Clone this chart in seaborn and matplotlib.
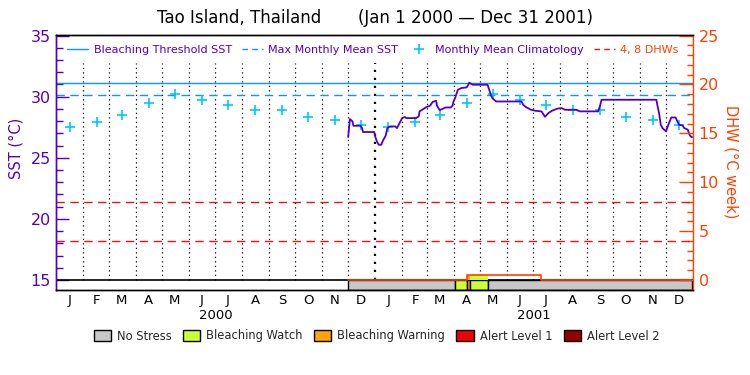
import pandas as pd
import matplotlib
matplotlib.use('Agg')
import matplotlib.pyplot as plt
import matplotlib.transforms as mtransforms
from matplotlib.lines import Line2D
from matplotlib.patches import Patch
from matplotlib.ticker import MultipleLocator
import seaborn as sns

# SST (°C) - resimden okunan yaklaşık değerler
sst_dates = ['2000-12-01', '2000-12-03', '2000-12-06', '2000-12-07', '2000-12-15', '2000-12-17',
             '2000-12-18', '2000-12-31', '2001-01-01', '2001-01-03', '2001-01-05', '2001-01-08',
             '2001-01-10', '2001-01-13', '2001-01-15', '2001-01-18', '2001-01-24', '2001-01-26',
             '2001-01-28', '2001-01-30', '2001-02-01', '2001-02-04', '2001-02-06', '2001-02-17',
             '2001-02-20', '2001-02-21', '2001-02-24', '2001-02-27', '2001-03-01', '2001-03-05',
             '2001-03-08', '2001-03-12', '2001-03-13', '2001-03-16', '2001-03-19', '2001-03-23',
             '2001-03-29', '2001-03-31', '2001-04-01', '2001-04-03', '2001-04-06', '2001-04-10',
             '2001-04-16', '2001-04-18', '2001-04-19', '2001-04-23', '2001-05-10', '2001-05-12',
             '2001-05-14', '2001-05-16', '2001-05-20', '2001-06-18', '2001-06-20', '2001-06-23',
             '2001-06-29', '2001-07-04', '2001-07-11', '2001-07-15', '2001-07-19', '2001-07-23',
             '2001-07-29', '2001-08-03', '2001-08-07', '2001-08-20', '2001-08-24', '2001-09-14',
             '2001-09-16', '2001-09-18', '2001-11-20', '2001-11-21', '2001-11-23', '2001-11-25',
             '2001-11-27', '2001-12-01', '2001-12-03', '2001-12-07', '2001-12-12', '2001-12-14',
             '2001-12-16', '2001-12-20', '2001-12-22', '2001-12-26', '2001-12-28', '2001-12-30',
             '2001-12-31']
sst_values = [26.70, 28.17, 27.98, 27.62, 27.62, 27.43,
              27.11, 27.11, 26.75, 26.34, 26.07, 26.07,
              26.42, 26.80, 27.43, 27.57, 27.57, 27.43,
              27.70, 27.98, 28.25, 28.34, 28.25, 28.25,
              28.39, 28.80, 28.93, 29.07, 29.16, 29.26,
              29.57, 29.67, 29.26, 28.91, 28.99, 29.12,
              29.12, 29.29, 29.61, 29.94, 30.57, 30.71,
              30.76, 30.98, 31.15, 30.98, 30.98, 30.57,
              30.11, 29.84, 29.61, 29.61, 29.34, 29.16,
              28.93, 28.85, 28.80, 28.36, 28.66, 28.85,
              29.02, 29.07, 28.93, 28.93, 28.80, 28.80,
              29.20, 29.75, 29.75, 29.34, 28.66, 27.70,
              27.43, 27.16, 27.57, 28.30, 28.30, 27.98,
              27.70, 27.65, 27.43, 27.30, 26.89, 26.70,
              26.70]

# aylık ortalama klimatoloji (ay ortası)
clim_months = ['J', 'F', 'M', 'A', 'M', 'J', 'J', 'A', 'S', 'O', 'N', 'D']
clim_values = [27.5, 27.9, 28.5, 29.5, 30.2, 29.75, 29.35, 28.9, 28.9, 28.35, 28.1, 27.7]
years = [2000, 2001]

mmm = 30.1
threshold = 31.1
dhw_levels = [4, 8]

# DHW (°C week)
dhw_dates = ['2000-12-01', '2001-04-17', '2001-07-11', '2001-12-31']
dhw_values = [0.0, 0.5, 0.0, 0.0]

# stres seviyeleri (başlangıç, bitiş, seviye)
stress_start = ['2000-12-01', '2001-04-03', '2001-04-17', '2001-04-20', '2001-05-11']
stress_end = ['2001-04-03', '2001-04-17', '2001-04-20', '2001-05-11', '2001-12-31']
stress_level = ['No Stress', 'Bleaching Watch', 'Bleaching Warning', 'Bleaching Watch', 'No Stress']

stress_colors = {'No Stress': '#c8c8c8', 'Bleaching Watch': '#ccff33',
                 'Bleaching Warning': '#ffa500', 'Alert Level 1': '#f00000',
                 'Alert Level 2': '#960000'}

purple = '#5000c8'
orange_red = '#ff4000'
blue = '#0a96ff'
cyan = '#00c8ff'
red = '#f01010'

sns.set_theme(style='white')
plt.rcParams['font.family'] = ['DejaVu Sans']
plt.rcParams['ytick.direction'] = 'in'

fig = plt.figure(figsize=(7.5, 3.75), dpi=100)
ax = fig.add_axes([0.0753, 0.2259, 0.8487, 0.6808])
ax2 = ax.twinx()

t0 = pd.Timestamp('2000-01-01')
t1 = pd.Timestamp('2002-01-01')
ymin, ymax = 14.16, 35.05

# ay sınırlarında noktalı çizgiler
month_starts = pd.date_range('2000-02-01', '2001-12-01', freq='MS')
for m in month_starts:
    lw = 1.6 if m == pd.Timestamp('2001-01-01') else 0.9
    ax.vlines(m, 15, 32.75, colors='black', linestyles=(0, (1, 2.6)), lw=lw, zorder=1)

# eşik çizgileri
ax.axhline(threshold, color=blue, lw=1.0, zorder=2)
ax.axhline(mmm, color=blue, lw=1.0, ls=(0, (6, 4)), zorder=2)
for lev in dhw_levels:
    ax2.axhline(lev, color=red, lw=1.0, ls=(0, (6, 4)), zorder=2)

# klimatoloji
clim_dates = []
clim_all = []
for yr in years:
    for i, v in enumerate(clim_values):
        clim_dates.append(pd.Timestamp(yr, i + 1, 1) + pd.Timedelta(days=15))
        clim_all.append(v)
sns.scatterplot(x=clim_dates, y=clim_all, marker='+', s=55, color=cyan, linewidth=1.2,
                ax=ax, zorder=3)

# SST
sst = pd.DataFrame({'date': pd.to_datetime(sst_dates), 'sst': sst_values})
sns.lineplot(data=sst, x='date', y='sst', color=purple, lw=1.3, ax=ax, zorder=4,
             estimator=None)

# stres çubuğu ve DHW dolgusu
bar_h = (15 - ymin) / (ymax - ymin)
dhw = pd.DataFrame({'date': pd.to_datetime(dhw_dates), 'dhw': dhw_values})
for s, e, lvl in zip(stress_start, stress_end, stress_level):
    s, e = pd.Timestamp(s), pd.Timestamp(e)
    ax.axvspan(s, e, ymin=0, ymax=bar_h, facecolor=stress_colors[lvl], edgecolor='black',
               lw=1, zorder=2)
    val = dhw.loc[dhw['date'] <= s, 'dhw'].iloc[-1]
    if lvl != 'No Stress' and val > 0:
        ax2.fill_between([s, e], 0, val, color=stress_colors[lvl], lw=0, zorder=1)
    elif lvl != 'No Stress':
        nxt = dhw.loc[(dhw['date'] > s) & (dhw['date'] < e)]
        for _, r in nxt.iterrows():
            ax2.fill_between([r['date'], e], 0, r['dhw'], color=stress_colors[lvl], lw=0, zorder=1)

sns.lineplot(data=dhw, x='date', y='dhw', color=orange_red, lw=1.2, drawstyle='steps-post',
             ax=ax2, zorder=3, estimator=None)
ax.axhline(15, color='black', lw=1.2, zorder=5)

# eksen görünümü
ax.set_xlabel('')
ax.set_ylabel('')
ax2.set_xlabel('')
ax2.set_ylabel('')
mid_months = pd.date_range('2000-01-01', periods=24, freq='MS') + pd.Timedelta(days=15)
ax.set_xticks(mid_months)
ax.set_xticklabels(clim_months * 2, fontsize=9.5)
ax.tick_params(axis='x', length=0, pad=3, colors='black')
ax.set_xlim(t0, t1)

ax.yaxis.set_major_locator(MultipleLocator(5))
ax.yaxis.set_minor_locator(MultipleLocator(1))
ax.set_ylim(ymin, ymax)
ax.tick_params(axis='y', which='major', direction='in', length=9.5, width=1, color=purple,
               labelcolor=purple, labelsize=11.5, pad=4, left=True)
ax.tick_params(axis='y', which='minor', direction='in', length=5, width=1, color=purple, left=True)

ax2.yaxis.set_major_locator(MultipleLocator(5))
ax2.yaxis.set_minor_locator(MultipleLocator(1))
ax2.set_ylim((ymin - 15) * 1.25, (ymax - 15) * 1.25)
ax2.tick_params(axis='y', which='major', direction='in', length=10, width=1, color=orange_red,
                labelcolor=orange_red, labelsize=11.5, pad=4, right=True)
ax2.tick_params(axis='y', which='minor', direction='in', length=4.5, width=1, color=orange_red,
                right=True)

for a in (ax, ax2):
    for sp in a.spines.values():
        sp.set_linewidth(1)
        sp.set_color('black')
ax2.spines['left'].set_color(purple)
ax2.spines['right'].set_color(orange_red)
ax.spines['left'].set_color(purple)
ax.spines['right'].set_visible(False)
ax.grid(False)
ax2.grid(False)

# yıllar
trans = mtransforms.blended_transform_factory(ax.transData, ax.transAxes)
for yr in years:
    ax.text(pd.Timestamp(yr, 7, 2), -0.097, str(yr), transform=trans, ha='center', va='center',
            fontsize=9.5, color='black')

# başlık ve eksen etiketleri
fig.text(0.5, 1 - 18 / 375, 'Tao Island, Thailand       (Jan 1 2000 \u2014 Dec 31 2001)',
         ha='center', va='center', fontsize=12, color='black')
fig.text(16 / 750, 1 - 148 / 375, 'SST (\u00b0C)', rotation=90, ha='center', va='center',
         fontsize=10.5, color=purple)
fig.text(731 / 750, 1 - 162 / 375, 'DHW (\u00b0C week)', rotation=270, ha='center', va='center',
         fontsize=10.5, color=orange_red)

# üst lejant
top_handles = [Line2D([], [], color=blue, lw=1.0),
               Line2D([], [], color=blue, lw=1.0, ls=(0, (4, 3))),
               Line2D([], [], color=cyan, marker='+', ls='none', markersize=7.5, mew=1.2),
               Line2D([], [], color=red, lw=1.0, ls=(0, (4, 3)))]
top_labels = ['Bleaching Threshold SST', 'Max Monthly Mean SST', 'Monthly Mean Climatology',
              '4, 8 DHWs']
ax2.legend(top_handles, top_labels, loc='center', bbox_to_anchor=(0.497, 0.941), ncol=4,
           frameon=False, fontsize=8, handlelength=1.9, handletextpad=0.5,
           columnspacing=0.9, labelcolor=[purple, purple, purple, orange_red])

# alt lejant
bottom_handles = [Patch(facecolor=c, edgecolor='black', lw=1) for c in stress_colors.values()]
fig.legend(bottom_handles, list(stress_colors.keys()), loc='center',
           bbox_to_anchor=(0.502, 1 - 336 / 375), ncol=5, frameon=False, fontsize=8.3,
           handlelength=1.5, handleheight=1.1, handletextpad=0.5, columnspacing=1.0)

fig.savefig('out.png', dpi=100)
